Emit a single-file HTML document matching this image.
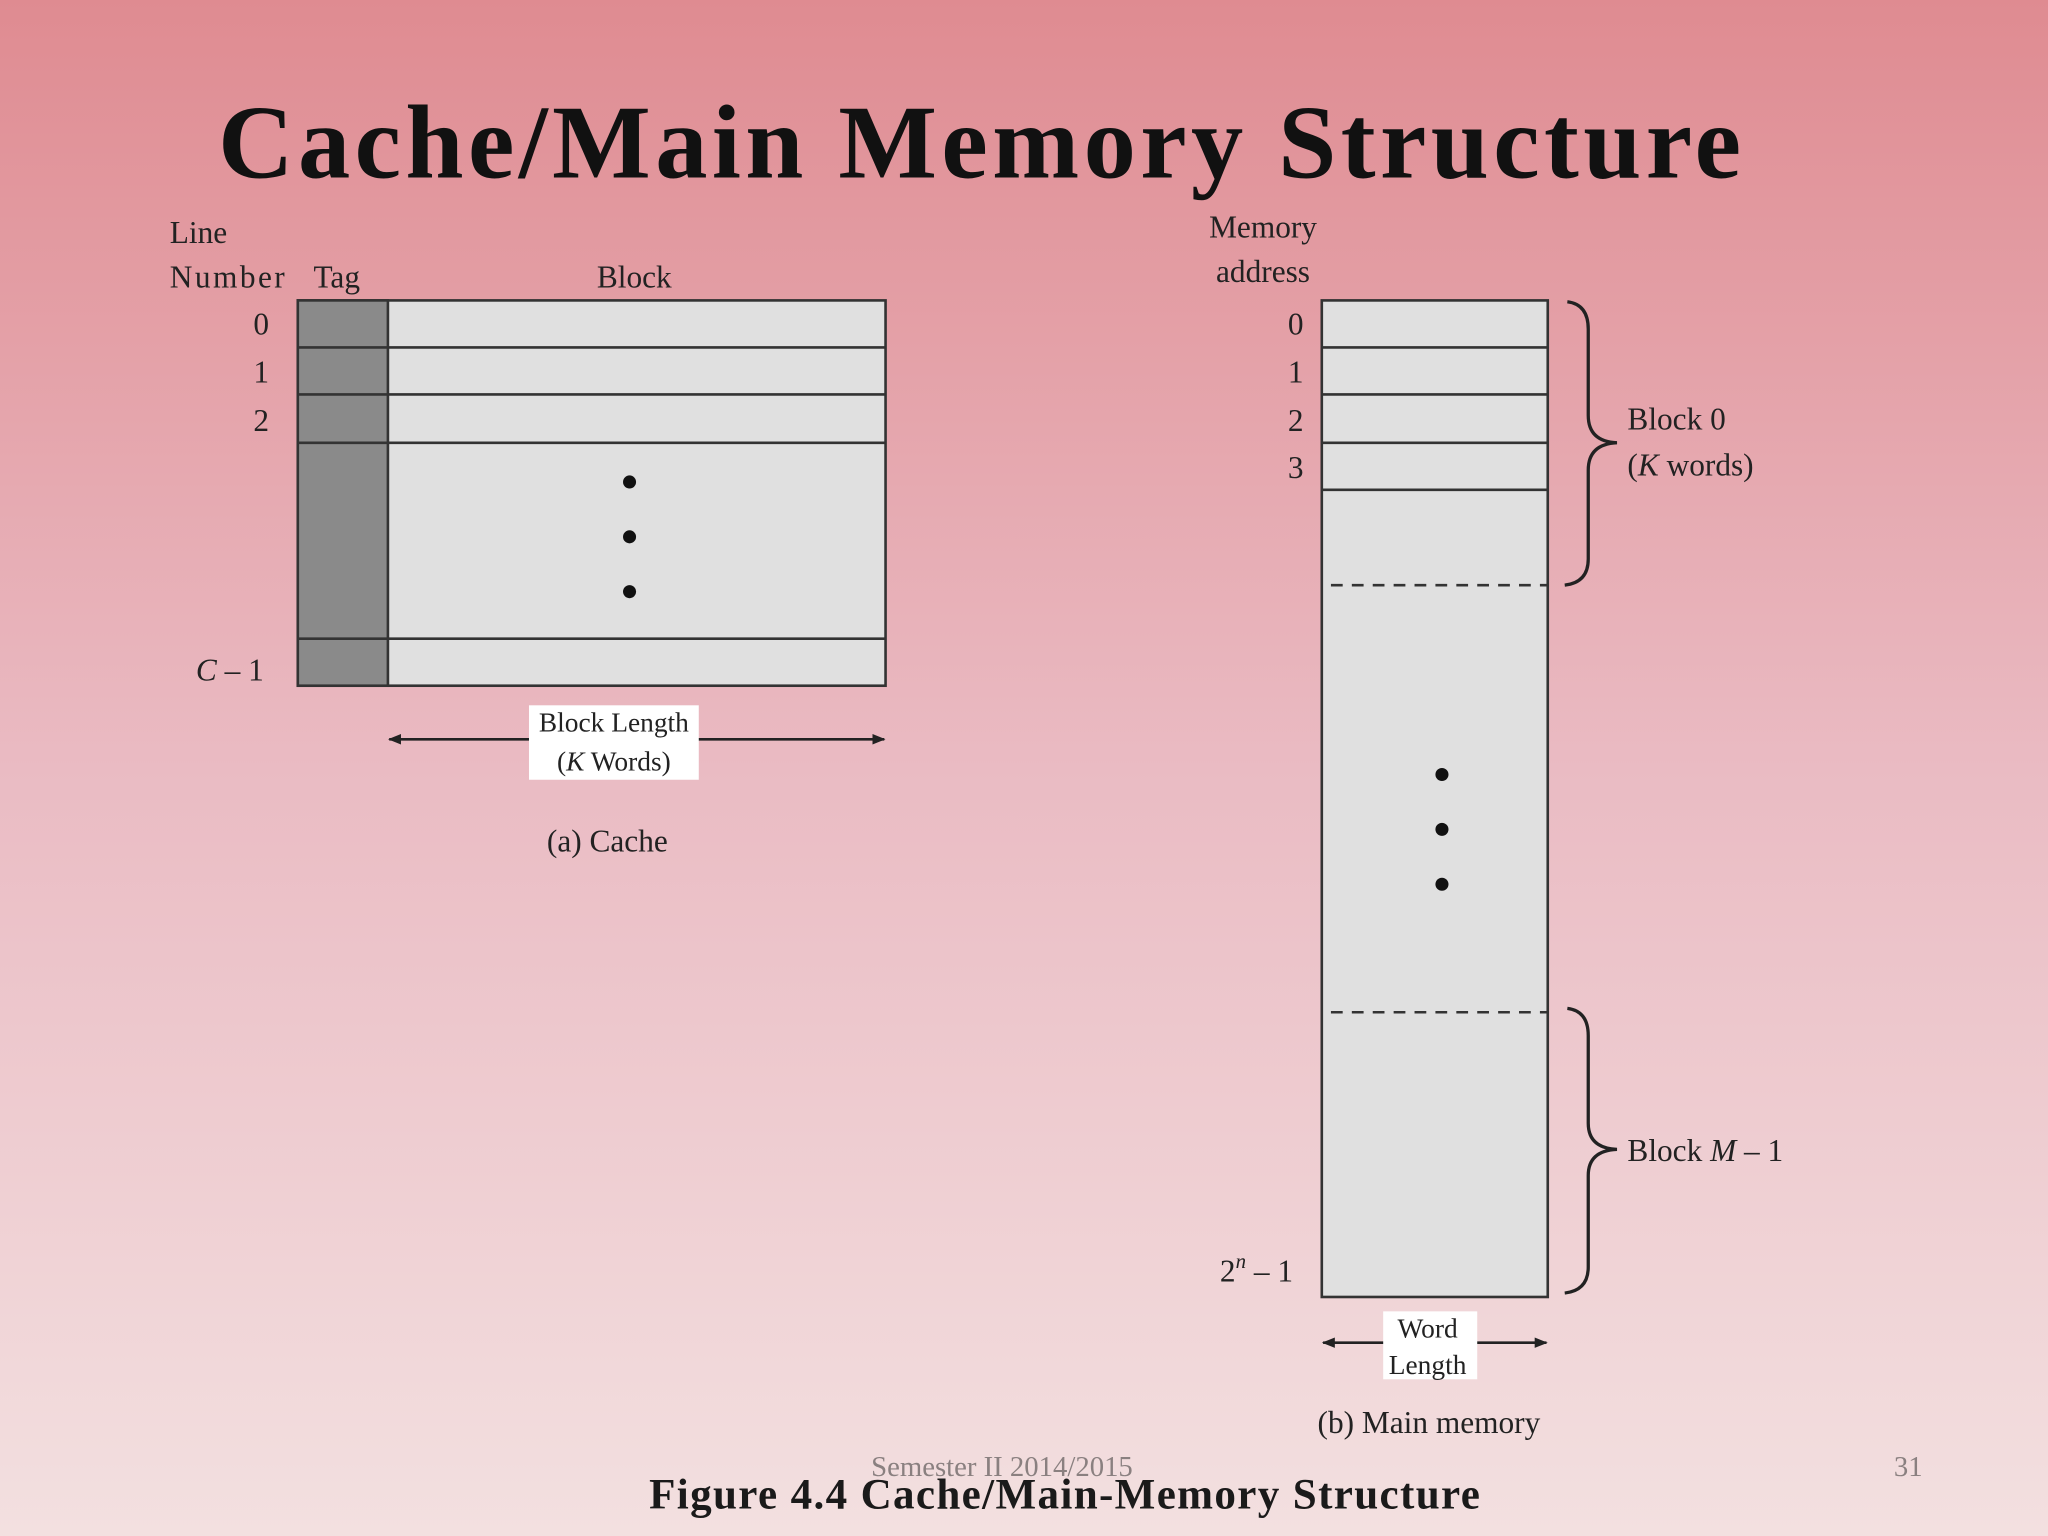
<!DOCTYPE html>
<html><head><meta charset="utf-8"><style>
html,body{margin:0;padding:0;width:2048px;height:1536px;overflow:hidden}
svg{display:block}
text{font-family:"Liberation Serif",serif;fill:#222}
</style></head><body>
<svg width="2048" height="1536" viewBox="0 0 1568 1176" preserveAspectRatio="none" xmlns="http://www.w3.org/2000/svg">
<defs>
<linearGradient id="bg" x1="0" y1="0" x2="0" y2="1">
<stop offset="0" stop-color="#df8b91"/>
<stop offset="0.5" stop-color="#eabbc3"/>
<stop offset="1" stop-color="#f3e0e0"/>
</linearGradient>
<marker id="ah" viewBox="0 0 10 10" refX="9" refY="5" markerWidth="10" markerHeight="10" markerUnits="userSpaceOnUse" orient="auto-start-reverse"><path d="M0,1 L10,5 L0,9 z" fill="#222"/></marker>
</defs>
<rect width="1568" height="1176" fill="url(#bg)"/>
<text x="167" y="136" font-size="80" font-weight="bold" textLength="1166" lengthAdjust="spacing" style="fill:#111">Cache/Main Memory Structure</text>

<!-- Cache -->
<rect x="228" y="230" width="450" height="295" fill="#e0e0e0" stroke="#333" stroke-width="2"/>
<rect x="228" y="230" width="69" height="295" fill="#8a8a8a" stroke="#333" stroke-width="2"/>
<g stroke="#333" stroke-width="2">
<line x1="228" y1="266" x2="678" y2="266"/><line x1="228" y1="302" x2="678" y2="302"/>
<line x1="228" y1="339" x2="678" y2="339"/><line x1="228" y1="489" x2="678" y2="489"/>
</g>
<g fill="#111"><circle cx="482" cy="369" r="5"/><circle cx="482" cy="411" r="5"/><circle cx="482" cy="453" r="5"/></g>
<g font-size="24">
<text x="130" y="186">Line</text><text x="130" y="220" textLength="88">Number</text>
<text x="240" y="220">Tag</text><text x="457" y="220">Block</text>
<text x="194" y="256">0</text><text x="194" y="293">1</text><text x="194" y="330">2</text>
<text x="150" y="521"><tspan font-style="italic">C</tspan> – 1</text>
</g>
<line x1="298" y1="566" x2="677" y2="566" stroke="#222" stroke-width="2" marker-start="url(#ah)" marker-end="url(#ah)"/>
<rect x="405" y="540" width="130" height="57" fill="#fff"/>
<text x="470" y="560" font-size="21" text-anchor="middle">Block Length</text>
<text x="470" y="590" font-size="21" text-anchor="middle">(<tspan font-style="italic">K</tspan> Words)</text>
<text x="465" y="652" font-size="24" text-anchor="middle">(a) Cache</text>

<!-- Memory -->
<rect x="1012" y="230" width="173" height="763" fill="#e0e0e0" stroke="#333" stroke-width="2"/>
<g stroke="#333" stroke-width="2">
<line x1="1012" y1="266" x2="1185" y2="266"/><line x1="1012" y1="302" x2="1185" y2="302"/>
<line x1="1012" y1="339" x2="1185" y2="339"/><line x1="1012" y1="375" x2="1185" y2="375"/>
</g>
<g stroke="#333" stroke-width="2" stroke-dasharray="9,7">
<line x1="1019" y1="448" x2="1185" y2="448"/><line x1="1019" y1="775" x2="1185" y2="775"/>
</g>
<g fill="#111"><circle cx="1104" cy="593" r="5"/><circle cx="1104" cy="635" r="5"/><circle cx="1104" cy="677" r="5"/></g>
<g font-size="24">
<text x="967" y="182" text-anchor="middle">Memory</text><text x="967" y="216" text-anchor="middle">address</text>
<text x="986" y="256">0</text><text x="986" y="293">1</text><text x="986" y="330">2</text><text x="986" y="366">3</text>
<text x="934" y="981">2<tspan font-size="16" dy="-10" font-style="italic">n</tspan><tspan dy="10"> – 1</tspan></text>
<text x="1246" y="329">Block 0</text>
<text x="1246" y="364">(<tspan font-style="italic">K</tspan> words)</text>
<text x="1246" y="889">Block <tspan font-style="italic">M</tspan> – 1</text>
</g>
<g fill="none" stroke="#222" stroke-width="2.5">
<path d="M1200,231 Q1216,233 1216,252 L1216,318 Q1216,338 1238,339 Q1216,340 1216,360 L1216,428 Q1216,446 1198,448"/>
<path d="M1200,772 Q1216,774 1216,793 L1216,860 Q1216,879 1238,880 Q1216,881 1216,900 L1216,970 Q1216,988 1198,990"/>
</g>
<line x1="1013" y1="1028" x2="1184" y2="1028" stroke="#222" stroke-width="2" marker-start="url(#ah)" marker-end="url(#ah)"/>
<rect x="1059" y="1004" width="72" height="52" fill="#fff"/>
<text x="1093" y="1024" font-size="21" text-anchor="middle">Word</text>
<text x="1093" y="1052" font-size="21" text-anchor="middle">Length</text>
<text x="1094" y="1097" font-size="24" text-anchor="middle">(b) Main memory</text>

<text x="667" y="1130" font-size="22" style="fill:#8a8080">Semester II 2014/2015</text>
<text x="1450" y="1130" font-size="22" style="fill:#8a8080">31</text>
<text x="497" y="1155" font-size="33" font-weight="bold" textLength="636" lengthAdjust="spacing" style="fill:#1a1a1a">Figure 4.4  Cache/Main-Memory Structure</text>
</svg>
</body></html>
